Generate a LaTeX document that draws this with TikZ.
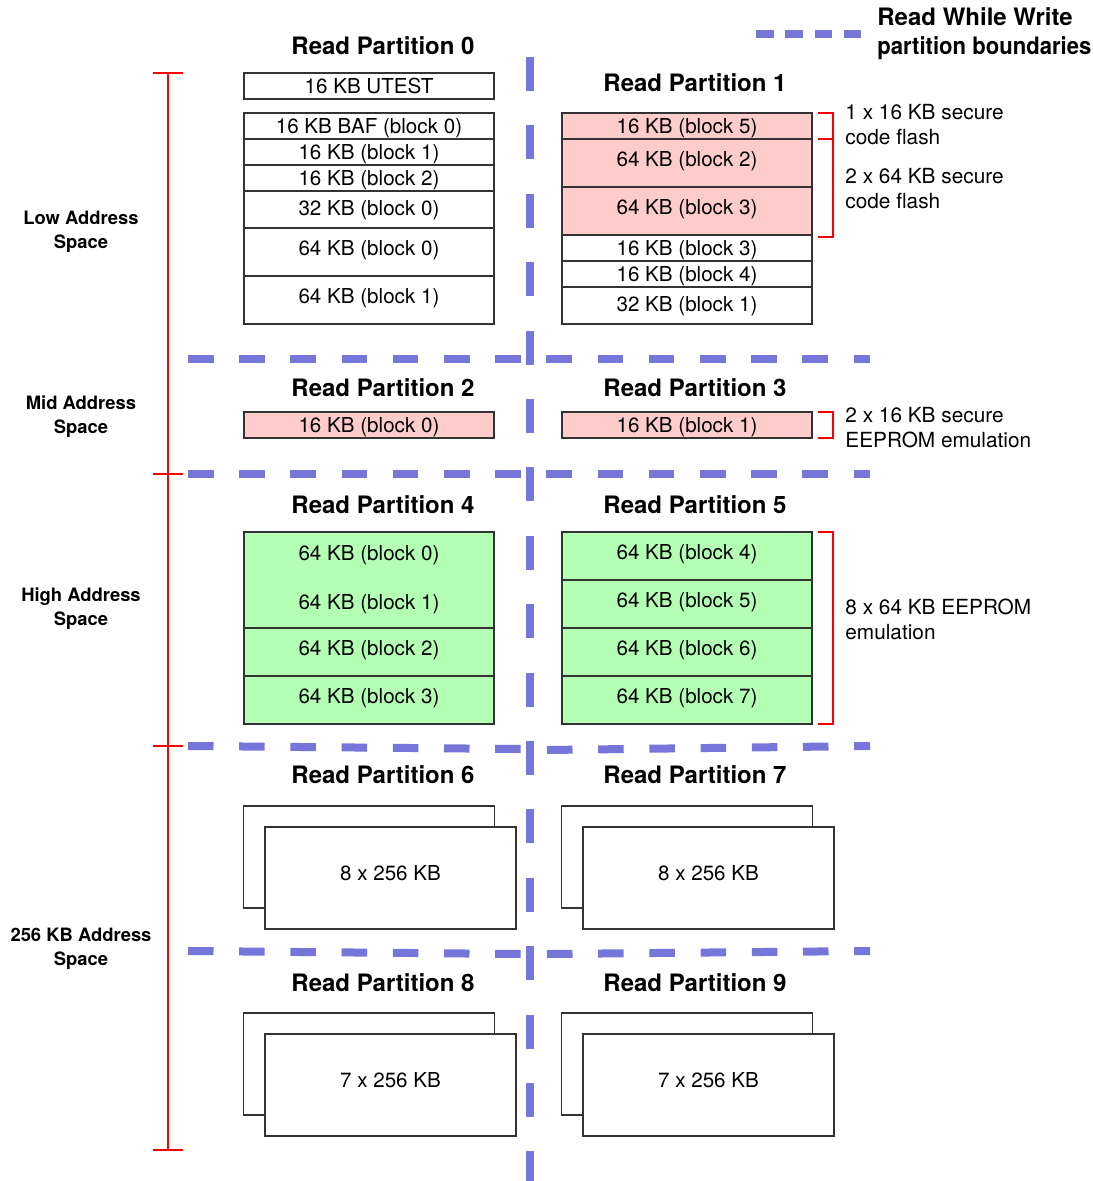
\documentclass[tikz,border=0pt]{standalone}
\usepackage{fontspec}
\setmainfont{TeX Gyre Heros}
\usepackage{xcolor}
\usepackage{graphicx}
\usepackage{tikz}
\usetikzlibrary{positioning}

\definecolor{rwwblue}{RGB}{117,117,218}
\definecolor{securepink}{RGB}{255,204,204}
\definecolor{eegreen}{RGB}{179,255,179}
\definecolor{spanred}{RGB}{250,0,0}

\begin{document}
\begin{tikzpicture}[x=0.5pt, y=-0.5pt,
    cellbase/.style={rectangle, draw=black!80, line width=0.6pt, fill=white, minimum width=125pt, minimum height=13pt, inner sep=0pt, outer sep=0pt, font=\fontsize{10.3}{12}\selectfont},
    cell/.style={cellbase, text height=7.5pt, text depth=0.2pt},
    cellmid/.style={cell, minimum height=18.5pt, text depth=1.6pt},
    celltall/.style={cell, minimum height=24pt, text depth=4.1pt},
    celldouble/.style={cellbase, minimum height=48pt, align=center, font=\fontsize{10.3}{24.5}\selectfont},
    secure/.style={fill=securepink},
    eeprom/.style={fill=eegreen},
    bank/.style={cell, minimum width=125.5pt, minimum height=51pt, text depth=5.1pt},
    title/.style={font=\fontsize{12}{14}\selectfont\bfseries},
    addrspace/.style={font=\fontsize{9.2}{12}\selectfont\bfseries, align=center},
    note/.style={anchor=west, align=left, inner sep=0pt, font=\fontsize{10.4}{12.5}\selectfont},
    boundary/.style={rwwblue, line width=4pt, dash pattern=on 12.75pt off 12.85pt},
    span/.style={spanred, line width=1.4pt},
    brace/.style={spanred, line width=1.4pt},
]
\useasboundingbox (0,0) rectangle (1092,1181);

\draw[boundary, dash pattern=on 17pt off 17.2pt] (530,57) -- (530,1181);
\draw[boundary] (188,359) -- (870,359);
\draw[boundary] (188,474) -- (870,474);
\draw[boundary] (188,746) -- (522,749);
\draw[boundary] (547,750) -- (870,746);
\draw[boundary] (188,951) -- (522,954);
\draw[boundary] (547,954) -- (870,951);

\draw[boundary, dash pattern=on 8.75pt off 5.9pt] (756,34) -- (862,34);
\node[title, anchor=west, align=left, inner sep=0pt, font=\fontsize{12}{14.5}\selectfont\bfseries] (legend) at (877,33.5) {Read While Write\\\scalebox{0.92}[1]{partition boundaries}};

\coordinate (spantop) at (168,73);
\coordinate (spanbot) at (168,1150);
\draw[span] (spantop) -- (spanbot);
\draw[span] (153,73) -- (183,73);
\draw[span] (153,474) -- (183,474);
\draw[span] (153,746) -- (183,746);
\draw[span] (153,1150) -- (183,1150);

\node[addrspace] (lowsp) at (81,231.5) {Low Address\\Space};
\node[addrspace] (midsp) at (81,417) {Mid Address\\Space};
\node[addrspace] (highsp) at (81,609) {High Address\\Space};
\node[addrspace] (bigsp) at (81,949) {256 KB Address\\Space};

\node[title] (rp0) at (383,46) {Read Partition 0};
\node[title] (rp1) at (695,83) {Read Partition 1};
\node[title] (rp2) at (383,388) {Read Partition 2};
\node[title] (rp3) at (695,388) {Read Partition 3};
\node[title] (rp4) at (383,505) {Read Partition 4};
\node[title] (rp5) at (695,505) {Read Partition 5};
\node[title] (rp6) at (383,775) {Read Partition 6};
\node[title] (rp7) at (695,775) {Read Partition 7};
\node[title] (rp8) at (383,983) {Read Partition 8};
\node[title] (rp9) at (695,983) {Read Partition 9};

\node[cell] (utest) at (369,86) {16 KB UTEST};
\node[cell] (baf) at (369,126) {16 KB BAF (block 0)};
\node[cell, below=0pt of baf] (p0b1) {16 KB (block 1)};
\node[cell, below=0pt of p0b1] (p0b2) {16 KB (block 2)};
\node[cellmid, below=0pt of p0b2] (p0s0) {32 KB (block 0)};
\node[celltall, below=0pt of p0s0] (p0l0) {64 KB (block 0)};
\node[celltall, below=0pt of p0l0] (p0l1) {64 KB (block 1)};

\node[cell, secure] (p1b5) at (687,126) {16 KB (block 5)};
\node[celltall, secure, below=0pt of p1b5] (p1l2) {64 KB (block 2)};
\node[celltall, secure, below=0pt of p1l2] (p1l3) {64 KB (block 3)};
\node[cell, below=0pt of p1l3] (p1b3) {16 KB (block 3)};
\node[cell, below=0pt of p1b3] (p1b4) {16 KB (block 4)};
\node[cellmid, below=0pt of p1b4] (p1s1) {32 KB (block 1)};

\node[cell, secure] (p2b0) at (369,425) {16 KB (block 0)};
\node[cell, secure] (p3b1) at (687,425) {16 KB (block 1)};

\node[celldouble, eeprom] (p4l01) at (369,580) {64 KB (block 0)\\64 KB (block 1)};
\node[celltall, eeprom, below=0pt of p4l01] (p4l2) {64 KB (block 2)};
\node[celltall, eeprom, below=0pt of p4l2] (p4l3) {64 KB (block 3)};

\node[celltall, eeprom] (p5l4) at (687,556) {64 KB (block 4)};
\node[celltall, eeprom, below=0pt of p5l4] (p5l5) {64 KB (block 5)};
\node[celltall, eeprom, below=0pt of p5l5] (p5l6) {64 KB (block 6)};
\node[celltall, eeprom, below=0pt of p5l6] (p5l7) {64 KB (block 7)};

\node[bank] (p6back) at (369,857) {};
\node[bank, xshift=10.75pt, yshift=-10.5pt] (p6front) at (p6back) {8 x 256 KB};
\node[bank] (p7back) at (687,857) {};
\node[bank, xshift=10.75pt, yshift=-10.5pt] (p7front) at (p7back) {8 x 256 KB};
\node[bank] (p8back) at (369,1064) {};
\node[bank, xshift=10.75pt, yshift=-10.5pt] (p8front) at (p8back) {7 x 256 KB};
\node[bank] (p9back) at (687,1064) {};
\node[bank, xshift=10.75pt, yshift=-10.5pt] (p9front) at (p9back) {7 x 256 KB};

\draw[brace] ([xshift=3pt]p1b5.north east) -- ++(15,0) |- ([xshift=3pt, yshift=-1pt]p1l3.south east);
\draw[brace] ([xshift=3pt]p1b5.south east) -- ++(15,0);
\draw[brace] ([xshift=3pt]p3b1.north east) -- ++(15,0) |- ([xshift=3pt]p3b1.south east);
\draw[brace] ([xshift=3pt]p5l4.north east) -- ++(15,0) |- ([xshift=3pt]p5l7.south east);

\node[note] (n1) at (845,124.5) {1 x 16 KB secure\\code flash};
\node[note] (n2) at (845,188.5) {2 x 64 KB secure\\code flash};
\node[note] (n3) at (845,427.5) {2 x 16 KB secure\\EEPROM emulation};
\node[note] (n4) at (845,619.5) {8 x 64 KB EEPROM\\emulation};
\end{tikzpicture}
\end{document}
